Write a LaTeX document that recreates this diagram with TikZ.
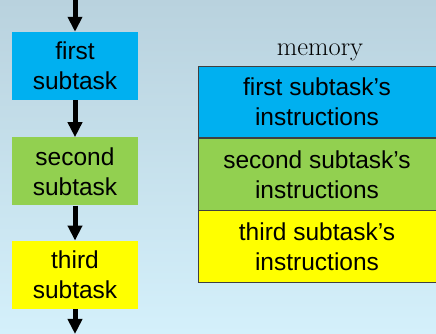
\documentclass[tikz,border=0pt]{standalone}
\usepackage{fontspec}
\newfontfamily\boxfont{Liberation Sans}
\usetikzlibrary{positioning,arrows.meta}
\definecolor{taskblue}{RGB}{0,176,240}
\definecolor{taskgreen}{RGB}{146,208,80}
\definecolor{taskyellow}{RGB}{255,255,0}
\definecolor{bgtop}{RGB}{185,210,222}
\definecolor{bgbottom}{RGB}{212,240,251}
\tikzset{
	taskbox/.style={minimum width=126pt, minimum height=68pt, inner sep=0pt, align=center,
		font=\boxfont\fontsize{24.5}{30}\selectfont},
	membox/.style={draw=black!75, line width=0.8pt, minimum width=238pt, minimum height=71.5pt,
		inner sep=0pt, align=center, font=\boxfont\fontsize{24.5}{30}\selectfont},
	flow/.style={line width=5pt, -{Triangle[length=15pt,width=14pt]}}
}
\begin{document}
\begin{tikzpicture}[x=1pt, y=1pt]
		\useasboundingbox (0,0) rectangle (436,334);
		\fill[top color=bgtop, bottom color=bgbottom] (0,0) rectangle (436,334);

		% subtasks
		\node[taskbox, fill=taskblue] (first) at (75,268) {first\\subtask};
		\node[taskbox, fill=taskgreen, below=37pt of first] (second) {second\\subtask};
		\node[taskbox, fill=taskyellow, below=35pt of second] (third) {third\\subtask};

		\coordinate (in) at (75,334);
		\coordinate (out) at (75,0);
		\draw[flow] (in) -- (first);
		\draw[flow] (first) -- (second);
		\draw[flow] (second) -- (third);
		\draw[flow] (third) -- (out);

		% memory
		\node[membox, fill=taskblue] (mem1) at (317,232) {first subtask’s\\instructions};
		\node[membox, fill=taskgreen, below=0pt of mem1] (mem2) {second subtask’s\\instructions};
		\node[membox, fill=taskyellow, below=0pt of mem2] (mem3) {third subtask’s\\instructions};
		\node[above=1pt of mem1, font=\fontsize{26.5}{30}\selectfont, xshift=3pt] (memtitle) {memory};
	\end{tikzpicture}
\end{document}
